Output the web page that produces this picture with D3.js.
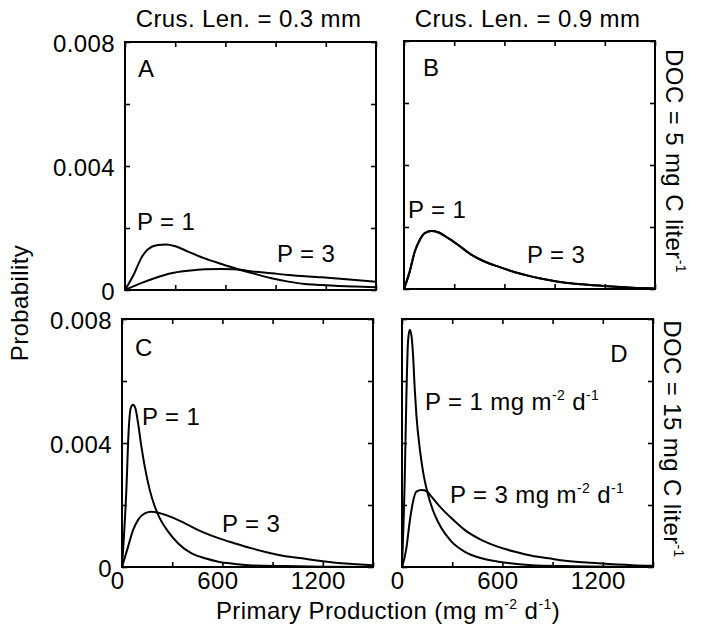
<!DOCTYPE html>
<html>
<head>
<meta charset="utf-8">
<script src="https://cdn.jsdelivr.net/npm/d3@7"></script>
<style>
  body { margin: 0; background: #fff; }
  svg text { font-family: "Liberation Sans", Arial, Helvetica, sans-serif; fill: #000; white-space: pre; letter-spacing: 0.4px; }
</style>
</head>
<body>
<svg id="chart" width="707" height="625"></svg>
<script>
// axis settings
var xDomain      = [ 0, 1500 ],
    yDomain      = [ 0, 0.008 ],
    xTicks       = [ 0, 300, 600, 900, 1200, 1500 ],
    xTickLabels  = [ 0, 600, 1200 ],
    yTicks       = [ 0, 0.002, 0.004, 0.006, 0.008 ],
    yTickLabels  = [ 0, 0.004, 0.008 ],
    colTitles    = [ 'Crus. Len. = 0.3 mm', 'Crus. Len. = 0.9 mm' ],
    rowTitles    = [ 'DOC = 5 mg C liter^{-1}', 'DOC = 15 mg C liter^{-1}' ];

// curves: [ primary production, probability ]
var aP1 = [ [0,0],[56,0.00054],[96,0.00102],[136,0.00131],[196,0.00145],[246,0.00147],[296,0.00142],[376,0.00124],[476,0.00102],[576,0.00084],[676,0.00067],[776,0.00052],[876,0.00038],[976,0.00027],[1076,0.00019],[1176,0.00016],[1276,0.00013],[1376,0.00011],[1500,0.00009] ],
    aP3 = [ [0,0],[96,0.00022],[176,0.00038],[276,0.00054],[376,0.00062],[476,0.00067],[576,0.00068],[656,0.00067],[776,0.00059],[876,0.00054],[976,0.00048],[1176,0.00041],[1376,0.00032],[1500,0.00027] ],
    bP1 = [ [0,0],[34,0.00056],[64,0.0012],[94,0.00158],[124,0.0018],[164,0.00187],[204,0.00183],[264,0.00164],[324,0.00142],[404,0.0011],[484,0.00088],[564,0.00072],[664,0.00054],[764,0.0004],[864,0.00029],[964,0.0002],[1064,0.00015],[1164,0.00011],[1264,0.00007],[1364,0.00004],[1500,0.00002] ],
    bP3 = [ [0,0],[34,0.00056],[64,0.0012],[94,0.00158],[124,0.0018],[164,0.00187],[204,0.00183],[264,0.00164],[324,0.00142],[404,0.0011],[484,0.00088],[564,0.00072],[664,0.00054],[764,0.0004],[864,0.00029],[964,0.0002],[1064,0.00015],[1164,0.00011],[1264,0.00007],[1364,0.00004],[1500,0.00002] ],
    cP1 = [ [0,0],[26,0.00248],[40,0.00442],[52,0.00512],[66,0.00523],[80,0.00512],[96,0.00464],[116,0.00388],[136,0.00324],[166,0.00248],[196,0.00195],[226,0.00157],[276,0.00114],[336,0.00076],[416,0.00044],[496,0.00028],[576,0.00017],[676,0.0001],[776,0.00005],[976,0.00003],[1200,0.00001],[1500,0] ],
    cP3 = [ [0,0],[36,0.00065],[66,0.00119],[96,0.00152],[136,0.00173],[176,0.00178],[216,0.00175],[276,0.00165],[376,0.00141],[476,0.00114],[576,0.00093],[676,0.00076],[776,0.0006],[876,0.00046],[976,0.00035],[1076,0.00028],[1176,0.0002],[1276,0.00014],[1376,0.0001],[1500,0.00006] ],
    dP1 = [ [0,0],[16,0.00275],[26,0.00544],[36,0.00727],[46,0.00765],[56,0.00748],[66,0.00684],[76,0.00576],[86,0.0049],[106,0.00383],[126,0.00307],[156,0.00232],[196,0.00168],[236,0.00125],[296,0.00082],[376,0.00049],[476,0.00028],[576,0.00017],[776,0.00006],[976,0.00003],[1500,0] ],
    dP3 = [ [0,0],[26,0.0006],[46,0.00146],[66,0.00211],[86,0.00243],[116,0.00248],[146,0.00245],[176,0.00227],[236,0.00189],[296,0.00157],[376,0.00119],[476,0.00087],[576,0.00065],[676,0.00049],[776,0.00036],[876,0.00028],[976,0.0002],[1176,0.00012],[1376,0.00006],[1500,0.00004] ];

var panelW = 251,
    panelH = 248,
    fontSize = 24,

    panels = [
      { id: 'A', x: 125, y: 42,  col: 0, row: 0, series: [ aP1, aP3 ],
        letter: { x: 13, y: 35, anchor: 'start' },
        labels: [ { t: 'P = 1', x: 12, y: 188 }, { t: 'P = 3', x: 152, y: 220 } ] },
      { id: 'B', x: 404, y: 41,  col: 1, row: 0, series: [ bP1, bP3 ],
        letter: { x: 19, y: 35, anchor: 'start' },
        labels: [ { t: 'P = 1', x: 4, y: 177 }, { t: 'P = 3', x: 123, y: 222 } ] },
      { id: 'C', x: 122, y: 319, col: 0, row: 1, series: [ cP1, cP3 ],
        letter: { x: 13, y: 37, anchor: 'start' },
        labels: [ { t: 'P = 1', x: 20, y: 106 }, { t: 'P = 3', x: 100, y: 213 } ] },
      { id: 'D', x: 402, y: 319, col: 1, row: 1, series: [ dP1, dP3 ],
        letter: { x: 226, y: 43, anchor: 'end' },
        labels: [ { t: 'P = 1 mg m^{-2} d^{-1}', x: 23, y: 91 }, { t: 'P = 3 mg m^{-2} d^{-1}', x: 48, y: 184 } ] }
    ],

    svg = d3.select( '#chart' ),

    x = d3.scaleLinear().domain( xDomain ).range( [ 0, panelW ] ),
    y = d3.scaleLinear().domain( yDomain ).range( [ panelH, 0 ] ),

    line = d3.line()
              .x( function( d ) { return x( d[ 0 ] ); } )
              .y( function( d ) { return y( d[ 1 ] ); } )
              .curve( d3.curveMonotoneX );

// writes "a^{b}c" as text with superscript tspans
function richText( sel, str, size ) {
  var parts = str.split( /\^\{([^}]*)\}/ ),
      shift = Math.round( size * 0.4 );

  parts.forEach( function( part, i ) {
    if ( !part.length ) { return; }
    var sup = i % 2 === 1,
        prevSup = i > 0 && ( i - 1 ) % 2 === 1;

    sel.append( 'tspan' )
        .attr( 'font-size', sup ? Math.round( size * 0.6 ) : size )
        .attr( 'dy', sup ? -shift : ( prevSup ? shift : 0 ) )
        .text( part );
  } );

  return sel;
}

function yFormat( d ) {
  return d === 0 ? '0' : d3.format( '.3f' )( d );
}

panels.forEach( function( p ) {
  var g = svg.append( 'g' )
              .attr( 'transform', 'translate(' + p.x + ',' + p.y + ')' ),
      clipId = 'clip' + p.id;

  g.append( 'clipPath' ).attr( 'id', clipId )
    .append( 'rect' ).attr( 'width', panelW ).attr( 'height', panelH );

  // inward ticks on all four sides
  [
    { axis: d3.axisBottom( x ).tickValues( xTicks ), t: [ 0, panelH ] },
    { axis: d3.axisTop( x ).tickValues( xTicks ),    t: [ 0, 0 ] },
    { axis: d3.axisLeft( y ).tickValues( yTicks ),   t: [ 0, 0 ] },
    { axis: d3.axisRight( y ).tickValues( yTicks ),  t: [ panelW, 0 ] }
  ].forEach( function( a ) {
    var ag = g.append( 'g' )
              .attr( 'transform', 'translate(' + a.t[ 0 ] + ',' + a.t[ 1 ] + ')' )
              .call( a.axis.tickSize( -5 ).tickFormat( '' ) );
    ag.select( '.domain' ).remove();
    ag.selectAll( 'line' ).attr( 'stroke', '#000' ).attr( 'stroke-width', 1.6 );
  } );

  if ( p.row === 1 ) {
    var xl = g.append( 'g' )
              .attr( 'transform', 'translate(0,' + panelH + ')' )
              .call( d3.axisBottom( x ).tickValues( xTickLabels ).tickSize( 0 ).tickPadding( 5 ).tickFormat( d3.format( 'd' ) ) );
    xl.select( '.domain' ).remove();
    // labels in the original sit a little left of their ticks
    xl.selectAll( 'text' ).attr( 'font-size', fontSize ).attr( 'font-family', null ).attr( 'dx', -5 );
  }

  if ( p.col === 0 ) {
    var yl = g.append( 'g' )
              .call( d3.axisLeft( y ).tickValues( yTickLabels ).tickSize( 0 ).tickPadding( 10 ).tickFormat( yFormat ) );
    yl.select( '.domain' ).remove();
    yl.selectAll( 'text' ).attr( 'font-size', fontSize ).attr( 'font-family', null ).attr( 'dy', '0.4em' );
  }

  g.append( 'g' )
    .attr( 'clip-path', 'url(#' + clipId + ')' )
    .selectAll( 'path' )
    .data( p.series )
    .enter().append( 'path' )
    .attr( 'd', line )
    .attr( 'fill', 'none' )
    .attr( 'stroke', '#000' )
    .attr( 'stroke-width', 2 )
    .attr( 'stroke-linejoin', 'round' );

  g.append( 'rect' )
    .attr( 'width', panelW )
    .attr( 'height', panelH )
    .attr( 'fill', 'none' )
    .attr( 'stroke', '#000' )
    .attr( 'stroke-width', 2 );

  g.append( 'text' )
    .attr( 'x', p.letter.x )
    .attr( 'y', p.letter.y )
    .attr( 'text-anchor', p.letter.anchor )
    .attr( 'font-size', fontSize )
    .text( p.id );

  p.labels.forEach( function( l ) {
    richText( g.append( 'text' ).attr( 'x', l.x ).attr( 'y', l.y ), l.t, fontSize );
  } );

  if ( p.row === 0 ) {
    svg.append( 'text' )
      .attr( 'x', p.x + panelW / 2 - 2 )
      .attr( 'y', 27 )
      .attr( 'text-anchor', 'middle' )
      .attr( 'font-size', fontSize )
      .text( colTitles[ p.col ] );
  }

  if ( p.col === 1 ) {
    richText(
      svg.append( 'text' )
        .attr( 'text-anchor', 'middle' )
        .attr( 'transform', 'translate(' + ( p.x + panelW + 11 ) + ',' + ( p.y + panelH / 2 - 4 ) + ') rotate(90)' ),
      rowTitles[ p.row ], fontSize
    );
  }
} );

svg.append( 'text' )
  .attr( 'text-anchor', 'middle' )
  .attr( 'font-size', fontSize )
  .attr( 'transform', 'translate(28,303) rotate(-90)' )
  .text( 'Probability' );

richText(
  svg.append( 'text' )
    .attr( 'x', 388 )
    .attr( 'y', 619 )
    .attr( 'text-anchor', 'middle' ),
  'Primary Production (mg m^{-2} d^{-1})', fontSize
);
</script>
</body>
</html>
